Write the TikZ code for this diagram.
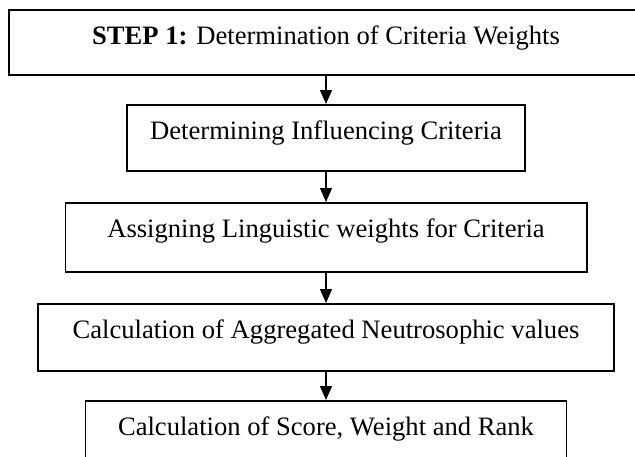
\documentclass[tikz,border=0pt]{standalone}
\usepackage{fontspec}
\setmainfont{Liberation Serif}
\usetikzlibrary{arrows.meta}
\begin{document}
\begin{tikzpicture}[x=1pt,y=-1pt,
  box/.style={draw, line width=1.6pt, inner xsep=0pt, inner ysep=0pt,
    anchor=north, text height=34.5pt,
    font=\fontsize{26.6}{32}\selectfont},
  arr/.style={line width=1.3pt, -{Triangle[width=12pt,length=14pt]}}]
\clip (0,0) rectangle (635,456);
\fill[white] (0,0) rectangle (635,456);
\node[box, minimum width=634pt, text depth=30.5pt] (b1) at (326,9)
  {\textbf{STEP 1:} Determination of Criteria Weights};
\node[box, minimum width=397.5pt, text depth=31.5pt] (b2) at (326,104)
  {Determining Influencing Criteria};
\node[box, minimum width=521.4pt, text depth=34.5pt] (b3) at (326,202)
  {Assigning Linguistic weights for Criteria};
\node[box, minimum width=576.4pt, text depth=32.5pt] (b4) at (326,303)
  {Calculation of Aggregated Neutrosophic values};
\node[box, minimum width=481pt, text depth=32.5pt] (b5) at (326,400)
  {Calculation of Score, Weight and Rank};
\draw[arr] (b1.south) -- (b2.north);
\draw[arr] (b2.south) -- (b3.north);
\draw[arr] (b3.south) -- (b4.north);
\draw[arr] (b4.south) -- (b5.north);
\end{tikzpicture}
\end{document}
